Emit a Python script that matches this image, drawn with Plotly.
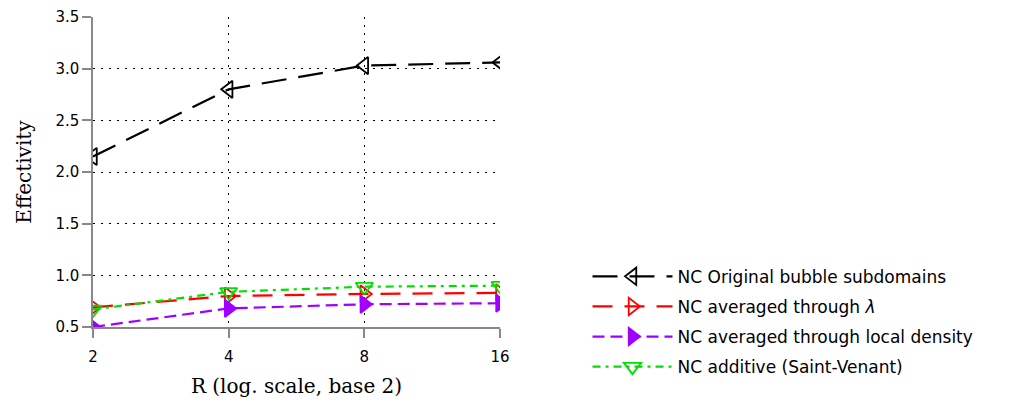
import plotly.graph_objects as go

R = [2, 4, 8, 16]
original = [2.15, 2.80, 3.03, 3.06]
avg_lambda = [0.69, 0.80, 0.82, 0.83]
avg_density = [0.50, 0.68, 0.72, 0.73]
additive = [0.67, 0.84, 0.89, 0.90]

names = ["NC Original bubble subdomains", "NC averaged through <i>λ</i>",
         "NC averaged through local density", "NC additive (Saint-Venant)"]
x_ticks = [2, 4, 8, 16]
y_ticks = [0.5, 1.0, 1.5, 2.0, 2.5, 3.0, 3.5]

fig = go.Figure()
series = [
    (original, "black", "25px,12px", "triangle-left-open"),
    (avg_lambda, "red", "20px,12px", "triangle-right-open"),
    (avg_density, "#a000ff", "12px,6px", "triangle-right"),
    (additive, "#00e000", "8px,5px,3px,5px", "triangle-down-open"),
]
for i, ((ys, col, dash, sym), nm) in enumerate(zip(series, names)):
    fig.add_trace(go.Scatter(
        x=R, y=ys, name=nm, mode="lines+markers", legendgroup=f"g{i}",
        line=dict(color=col, width=2.2, dash=dash),
        marker=dict(symbol=sym, size=15, color=col, line=dict(color=col, width=1.8)),
        cliponaxis=True,
    ))

fig.update_layout(
    width=1014, height=403,
    margin=dict(l=93, r=514, t=17, b=76),
    paper_bgcolor="white", plot_bgcolor="white",
    font=dict(family="DejaVu Sans", size=15, color="black"),
    legend=dict(x=1.215, y=0.22, xanchor="left", yanchor="top",
                font=dict(family="DejaVu Sans", size=17),
                itemwidth=80,
                bgcolor="rgba(0,0,0,0)", tracegroupgap=5),
    xaxis=dict(type="log", range=[0.30103, 1.20412], tickvals=x_ticks,
               ticktext=[str(v) for v in x_ticks], automargin=False,
               showgrid=True, gridcolor="black", griddash="2px,6px", gridwidth=1.2,
               showline=True, linecolor="#888888", linewidth=1.5,
               ticks="outside", ticklen=9, tickcolor="#888888", tickwidth=1.5,
               ticklabelstandoff=6,
               zeroline=False,
               title=dict(text="R (log. scale, base 2)",
                          font=dict(family="DejaVu Serif", size=20), standoff=14)),
    yaxis=dict(range=[0.5, 3.5], tickvals=y_ticks, tickformat=".1f",
               automargin=False,
               showgrid=True, gridcolor="black", griddash="2px,6px", gridwidth=1.2,
               showline=True, linecolor="#888888", linewidth=1.5,
               ticks="outside", ticklen=9, tickcolor="#888888", tickwidth=1.5,
               zeroline=False,
               title=dict(text="Effectivity",
                          font=dict(family="DejaVu Serif", size=20), standoff=18)),
)

fig.write_html("out.html")
